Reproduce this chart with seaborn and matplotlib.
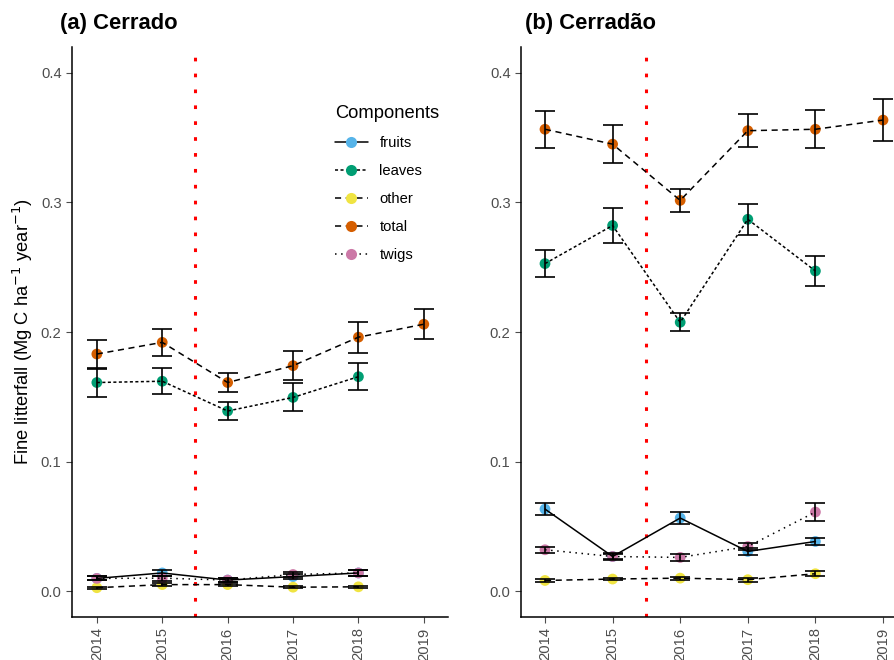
import pandas as pd
import numpy as np
import matplotlib
matplotlib.use("Agg")
import matplotlib.pyplot as plt
import seaborn as sns
from matplotlib.lines import Line2D

# data
years = [2014, 2015, 2016, 2017, 2018, 2019]
components = ["fruits", "leaves", "other", "total", "twigs"]

# (a) Cerrado
cer_total = [0.183, 0.192, 0.161, 0.174, 0.196, 0.206]
cer_total_se = [0.0112, 0.0107, 0.0077, 0.0110, 0.0120, 0.0116]
cer_leaves = [0.161, 0.162, 0.139, 0.1495, 0.1655]
cer_leaves_se = [0.0110, 0.0100, 0.0072, 0.0108, 0.0105]
cer_fruits = [0.0098, 0.0140, 0.0085, 0.0112, 0.0140]
cer_fruits_se = [0.0015, 0.0020, 0.0015, 0.0020, 0.0020]
cer_twigs = [0.0098, 0.0100, 0.0085, 0.0128, 0.0140]
cer_twigs_se = [0.0015, 0.0020, 0.0015, 0.0020, 0.0020]
cer_other = [0.0026, 0.0050, 0.0050, 0.0030, 0.0033]
cer_other_se = [0.0008, 0.0010, 0.0008, 0.0008, 0.0008]

# (b) Cerradão
cdo_total = [0.3565, 0.3450, 0.3016, 0.3554, 0.3565, 0.3636]
cdo_total_se = [0.0143, 0.0145, 0.0090, 0.0128, 0.0148, 0.0162]
cdo_leaves = [0.2528, 0.2822, 0.2075, 0.2870, 0.2471]
cdo_leaves_se = [0.0106, 0.0135, 0.0068, 0.0119, 0.0115]
cdo_fruits = [0.0633, 0.0267, 0.0564, 0.0306, 0.0383]
cdo_fruits_se = [0.0049, 0.0020, 0.0045, 0.0030, 0.0025]
cdo_twigs = [0.0319, 0.0267, 0.0260, 0.0344, 0.0610]
cdo_twigs_se = [0.0025, 0.0025, 0.0025, 0.0030, 0.0071]
cdo_other = [0.0082, 0.0093, 0.0100, 0.0088, 0.0134]
cdo_other_se = [0.0015, 0.0010, 0.0012, 0.0015, 0.0020]

palette = {"fruits": "#56B4E9", "leaves": "#009E73", "other": "#F0E442",
           "total": "#D55E00", "twigs": "#CC79A7"}
dashes = {"fruits": "", "leaves": (2, 1.6), "other": (4, 3),
          "total": (4, 3), "twigs": (1, 3)}


def make_df(series):
    rows = []
    for comp, (vals, ses) in series.items():
        for y, v, s in zip(years, vals, ses):
            rows.append({"year": y, "component": comp, "value": v, "se": s})
    return pd.DataFrame(rows)


df_cer = make_df({"fruits": (cer_fruits, cer_fruits_se), "leaves": (cer_leaves, cer_leaves_se),
                  "other": (cer_other, cer_other_se), "total": (cer_total, cer_total_se),
                  "twigs": (cer_twigs, cer_twigs_se)})
df_cdo = make_df({"fruits": (cdo_fruits, cdo_fruits_se), "leaves": (cdo_leaves, cdo_leaves_se),
                  "other": (cdo_other, cdo_other_se), "total": (cdo_total, cdo_total_se),
                  "twigs": (cdo_twigs, cdo_twigs_se)})

sns.set_style("ticks")
plt.rcParams["font.family"] = ["Liberation Sans", "DejaVu Sans"]
plt.rcParams["text.color"] = "black"
plt.rcParams["axes.labelcolor"] = "black"

fig = plt.figure(figsize=(8.94, 6.6), dpi=100)
ax1 = fig.add_axes([72 / 894, 43 / 660, 376 / 894, 570 / 660])
ax2 = fig.add_axes([521 / 894, 43 / 660, 386 / 894, 570 / 660])


def draw_panel(ax, df, xlim):
    sns.scatterplot(data=df, x="year", y="value", hue="component", palette=palette,
                    s=60, linewidth=0, legend=False, ax=ax, zorder=2)
    sns.lineplot(data=df, x="year", y="value", style="component", dashes=dashes,
                 color="black", linewidth=1.1, errorbar=None, legend=False, ax=ax, zorder=3)
    ax.errorbar(df["year"], df["value"], yerr=df["se"], fmt="none", ecolor="black",
                elinewidth=1.2, capsize=7, capthick=1.2, zorder=4)
    ax.axvline(2015.5, color="red", linestyle=(0, (1.2, 4)), linewidth=2.2, zorder=1)
    ax.set_xlim(*xlim)
    ax.set_ylim(-0.02, 0.42)
    ax.set_xticks(years)
    ax.set_xticklabels([str(y) for y in years], rotation=90)
    ax.set_yticks([0.0, 0.1, 0.2, 0.3, 0.4])
    ax.set_yticklabels(["0.0", "0.1", "0.2", "0.3", "0.4"])
    ax.tick_params(colors="#4D4D4D", labelsize=10.6, length=4, width=0.8)
    for sp in ["top", "right"]:
        ax.spines[sp].set_visible(False)
    for sp in ["left", "bottom"]:
        ax.spines[sp].set_color("black")
        ax.spines[sp].set_linewidth(1.1)
    ax.set_xlabel("")
    ax.set_ylabel("")


draw_panel(ax1, df_cer, (2013.62, 2019.37))
draw_panel(ax2, df_cdo, (2013.645, 2019.355))

ax1.set_ylabel("Fine litterfall (Mg C ha$^{-1}$ year$^{-1}$)", fontsize=13.2, labelpad=4,
               color="black")

fig.text(60 / 894, 1 - 24 / 660, "(a) Cerrado", fontsize=15.8, fontweight="bold",
         va="center", color="black")
fig.text(525 / 894, 1 - 24 / 660, "(b) Cerradão", fontsize=15.8, fontweight="bold",
         va="center", color="black")

handles = [Line2D([0], [0], color="black", linestyle="-" if dashes[c] == "" else (0, dashes[c]),
                  linewidth=1.1, marker="o", markersize=8, markerfacecolor=palette[c],
                  markeredgewidth=0) for c in components]
leg = ax1.legend(handles, components, title="Components", loc="upper left",
                 bbox_to_anchor=(322 / 894, 1 - 92 / 660), bbox_transform=fig.transFigure,
                 frameon=False, fontsize=10.6, title_fontsize=13.2, handlelength=2.2,
                 labelspacing=0.95, alignment="left", labelcolor="black")
leg.get_title().set_color("black")

fig.savefig("out.png", dpi=100)
